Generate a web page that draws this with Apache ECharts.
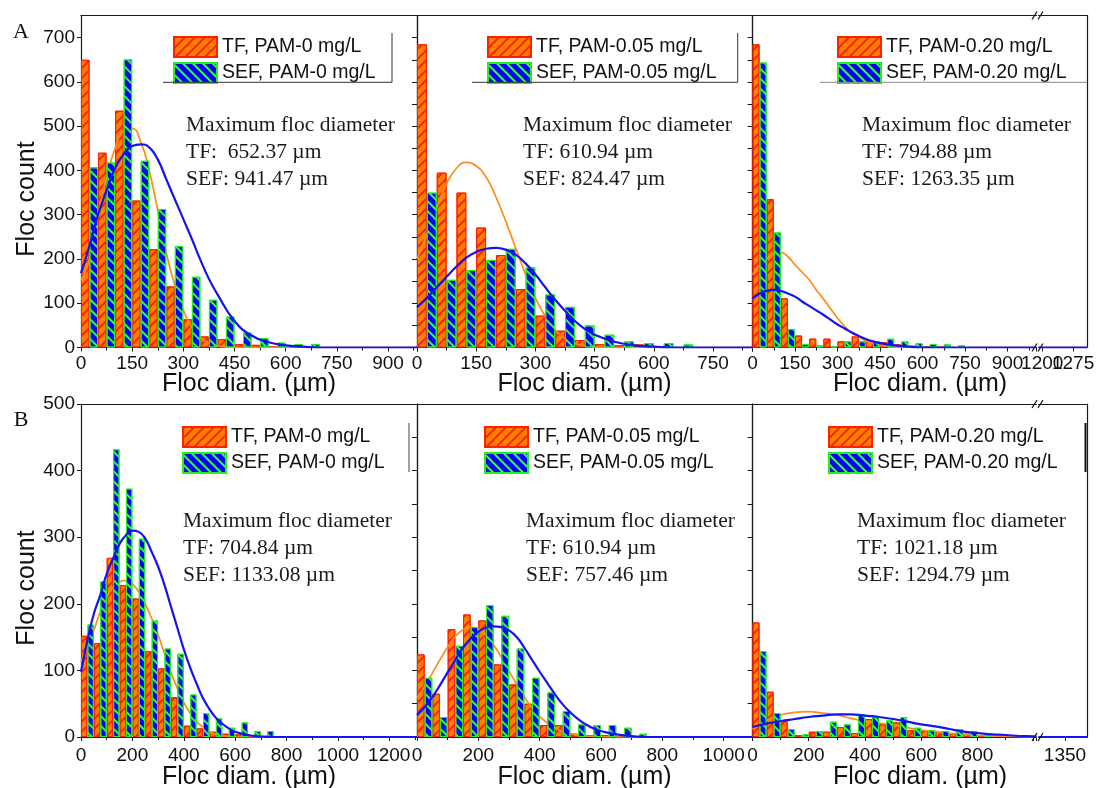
<!DOCTYPE html>
<html>
<head>
<meta charset="utf-8">
<title>Floc diameter distributions</title>
<script src="https://cdn.jsdelivr.net/npm/echarts@6/dist/echarts.min.js"></script>
<style>
  html, body { margin: 0; padding: 0; background: #ffffff; }
  #chart { width: 1098px; height: 788px; }
</style>
</head>
<body>
<div id="chart"></div>
<script>
// 50 um bins, TF sits in the left half of each bin and SEF in the right half
const binCenters = [25, 75, 125, 175, 225, 275, 325, 375, 425, 475, 525, 575, 625, 675, 725, 775, 825];

const namesPam0 = ['TF, PAM-0 mg/L', 'SEF, PAM-0 mg/L'];
const namesPam005 = ['TF, PAM-0.05 mg/L', 'SEF, PAM-0.05 mg/L'];
const namesPam020 = ['TF, PAM-0.20 mg/L', 'SEF, PAM-0.20 mg/L'];

// row A counts
const tfA0 = [650, 440, 535, 332, 222, 138, 64, 25, 19, 8, 6, 2];
const sefA0 = [407, 418, 651, 422, 313, 229, 160, 108, 70, 34, 21, 11, 8, 8];
const tfA005 = [685, 395, 350, 271, 209, 132, 72, 38, 17, 8, 5, 7, 1];
const sefA005 = [350, 153, 175, 198, 223, 181, 120, 92, 50, 29, 14, 10, 10, 7];
const tfA020 = [685, 335, 111, 27, 20, 20, 14, 25, 16, 12, 7, 4, 2, 1];
const sefA020 = [644, 260, 42, 8, 5, 3, 14, 14, 14, 20, 14, 10, 8, 7, 5];

// row B counts
const tfB0 = [152, 141, 269, 228, 208, 129, 103, 60, 17, 13, 8, 5, 4, 2, 1];
const sefB0 = [169, 234, 432, 373, 298, 175, 133, 125, 64, 36, 28, 14, 22, 9, 9];
const tfB005 = [124, 65, 162, 184, 175, 109, 79, 50, 18, 18, 5, 3, 3, 1];
const sefB005 = [89, 30, 137, 165, 198, 182, 133, 89, 67, 39, 19, 18, 18, 14, 5];
const tfB020 = [172, 68, 24, 3, 8, 8, 15, 6, 27, 19, 22, 10, 10, 8, 5, 5, 3];
const sefB020 = [129, 36, 12, 4, 9, 23, 19, 34, 30, 25, 30, 14, 10, 9, 12, 9, 3];

// fitted curves
const fitXA0 = [0, 25, 50, 75, 100, 125, 150, 175, 200, 225, 250, 275, 300, 325, 350, 375, 400, 450, 500, 550, 600, 650, 700, 985];
const tfFitA0 = [150, 200, 300, 385, 450, 490, 495, 465, 400, 310, 215, 140, 85, 45, 22, 10, 4, 0, 0, 0, 0, 0, 0, 0];
const sefFitA0 = [168, 230, 300, 355, 405, 437, 455, 459, 452, 425, 380, 335, 290, 245, 198, 155, 120, 60, 27, 12, 5, 2, 0, 0];

const fitXA005 = [0, 25, 50, 75, 100, 125, 150, 175, 200, 225, 250, 275, 300, 325, 350, 375, 400, 425, 450, 500, 550, 600, 650, 850];
const tfFitA005 = [200, 255, 315, 370, 405, 418, 410, 385, 340, 285, 225, 165, 112, 70, 40, 20, 9, 4, 1, 0, 0, 0, 0, 0];
const sefFitA005 = [91, 112, 136, 160, 183, 203, 216, 223, 225, 221, 210, 190, 165, 136, 108, 83, 60, 42, 29, 13, 5, 2, 0, 0];

const fitXA020 = [0, 25, 50, 75, 100, 125, 150, 175, 200, 225, 250, 275, 300, 325, 350, 375, 400, 425, 450, 500, 550, 600, 1002];
const tfFitA020 = [165, 185, 200, 212, 215, 205, 187, 170, 153, 130, 110, 88, 66, 48, 33, 24, 15, 9, 5, 1, 0, 0, 0];
const sefFitA020 = [110, 122, 128, 130, 128, 122, 115, 104, 94, 84, 74, 63, 52, 43, 34, 26, 19, 14, 10, 5, 2, 0, 0];

const fitXB0 = [0, 25, 50, 75, 100, 125, 150, 175, 200, 225, 250, 275, 300, 325, 350, 375, 400, 425, 450, 475, 500, 525, 550, 575, 600, 650, 700, 750, 1308];
const tfFitB0 = [112, 135, 160, 188, 210, 225, 233, 235, 230, 218, 200, 178, 154, 125, 97, 73, 52, 36, 23, 15, 8, 4, 2, 1, 0, 0, 0, 0, 0];
const sefFitB0 = [98, 145, 185, 213, 245, 268, 290, 303, 310, 308, 298, 278, 256, 228, 196, 164, 132, 104, 80, 58, 42, 29, 20, 13, 8, 3, 1, 0, 0];

const fitXB005 = [0, 25, 50, 75, 100, 125, 150, 175, 200, 225, 250, 275, 300, 325, 350, 375, 400, 425, 450, 475, 500, 525, 550, 575, 600, 650, 700, 750, 1094];
const tfFitB005 = [58, 76, 96, 116, 135, 151, 161, 165, 162, 153, 138, 120, 99, 79, 60, 44, 31, 21, 14, 8, 5, 3, 1.5, 1, 0.5, 0, 0, 0, 0];
const sefFitB005 = [33, 45, 60, 78, 97, 116, 134, 148, 158, 164, 166, 165, 160, 150, 134, 116, 98, 81, 64, 49, 37, 27, 19, 13, 9, 4, 1.5, 0, 0];

const fitXB020 = [0, 50, 100, 150, 200, 250, 300, 350, 400, 450, 500, 550, 600, 650, 700, 750, 800, 850, 900, 950, 1000, 1010];
const tfFitB020 = [12, 25, 33, 37, 38, 36, 33, 28, 24, 21, 18, 14, 10.5, 8, 5.5, 4, 2.5, 1.5, 1, 0.5, 0, 0];
const sefFitB020 = [15, 20, 24, 27, 30, 32, 34, 34, 32, 30, 27, 23, 19, 16, 12, 8, 6, 4, 3, 1.5, 1, 0.5];

// part of the axis after the break
const tailXA = [1191, 1310];
const tailXB = [1256, 1430];
const tailZero = [0, 0];

const tickLabelsTailA = [1200, 1275];
const tickLabelsTailB = [1350];

const rowLayout = [
  { top: 15.5, height: 332, yMax: 750, labelMargin: 7 },
  { top: 404, height: 333, yMax: 500, labelMargin: 9 }
];

const panels = [
  { row: 0, left: 81, width: 336, xMax: 985, interval: 150, yLabels: true, rightTicks: true,
    tf: tfA0, sef: sefA0, fitX: fitXA0, tfFit: tfFitA0, sefFit: sefFitA0, names: namesPam0, legendLeft: 173, legendTop: 36 },
  { row: 0, left: 417, width: 335.5, xMax: 850, interval: 150, rightTicks: true,
    tf: tfA005, sef: sefA005, fitX: fitXA005, tfFit: tfFitA005, sefFit: sefFitA005, names: namesPam005, legendLeft: 487, legendTop: 36 },
  { row: 0, left: 752.5, width: 284, xMax: 1002, interval: 150, noRight: true,
    tf: tfA020, sef: sefA020, fitX: fitXA020, tfFit: tfFitA020, sefFit: sefFitA020, names: namesPam020, legendLeft: 837, legendTop: 36 },
  { row: 0, left: 1038.5, width: 49, xMin: tailXA[0], xMax: tailXA[1], tickValues: tickLabelsTailA, noLeft: true,
    fitX: tailXA, tfFit: tailZero, sefFit: tailZero },
  { row: 1, left: 81, width: 336, xMax: 1308, interval: 200, yLabels: true, rightTicks: true,
    tf: tfB0, sef: sefB0, fitX: fitXB0, tfFit: tfFitB0, sefFit: sefFitB0, names: namesPam0, legendLeft: 182, legendTop: 426 },
  { row: 1, left: 417, width: 335.5, xMax: 1094, interval: 200, rightTicks: true,
    tf: tfB005, sef: sefB005, fitX: fitXB005, tfFit: tfFitB005, sefFit: sefFitB005, names: namesPam005, legendLeft: 484, legendTop: 426 },
  { row: 1, left: 752.5, width: 284, xMax: 1010, interval: 200, noRight: true, labelMax: 800,
    tf: tfB020, sef: sefB020, fitX: fitXB020, tfFit: tfFitB020, sefFit: sefFitB020, names: namesPam020, legendLeft: 828, legendTop: 426 },
  { row: 1, left: 1038.5, width: 49, xMin: tailXB[0], xMax: tailXB[1], tickValues: tickLabelsTailB, noLeft: true,
    fitX: tailXB, tfFit: tailZero, sefFit: tailZero }
];

const axisColor = '#1a1a1a';
const sansFont = 'Liberation Sans, Arial, sans-serif';
const serifFont = '"Liberation Serif", "Times New Roman", serif';
const tickFont = { fontFamily: sansFont, fontSize: 19, color: '#111' };

const tfStyle = {
  color: '#ff8000',
  borderColor: '#ff2000',
  borderWidth: 1,
  decal: { symbol: 'rect', symbolSize: 1, color: '#ff2000', dashArrayX: [1, 0], dashArrayY: [1.3, 5], rotation: -Math.PI / 4 }
};
const sefStyle = {
  color: '#0000ff',
  borderColor: '#22ee22',
  borderWidth: 1,
  decal: { symbol: 'rect', symbolSize: 1, color: '#33ff33', dashArrayX: [1, 0], dashArrayY: [1.3, 5], rotation: Math.PI / 4 }
};

const grids = [];
const xAxes = [];
const yAxes = [];
const series = [];
const legends = [];

panels.forEach((p, i) => {
  const row = rowLayout[p.row];
  const xMin = p.xMin || 0;
  const labelMax = p.labelMax || Infinity;
  grids.push({ left: p.left, top: row.top, width: p.width, height: row.height, outerBoundsMode: 'none' });

  const lineStyle = { color: axisColor, width: 1.2 };
  const bottomX = {
    type: 'value', gridIndex: i, position: 'bottom', min: xMin, max: p.xMax,
    axisLine: { show: true, onZero: false, lineStyle: lineStyle },
    axisTick: { show: true, inside: false, length: 4, lineStyle: { color: axisColor } },
    axisLabel: Object.assign({ margin: row.labelMargin, hideOverlap: false,
      formatter: v => (v <= labelMax ? String(v) : '') }, tickFont),
    splitLine: { show: false }
  };
  if (p.tickValues) {
    // only the first value goes through the axis, the rest are placed after layout
    bottomX.axisLabel.customValues = p.tickValues.slice(0, 1);
    bottomX.axisTick.customValues = p.tickValues;
  } else {
    bottomX.interval = p.interval;
    bottomX.axisLabel.showMaxLabel = false;
    bottomX.minorTick = { show: true, splitNumber: 2, length: 3, lineStyle: { color: axisColor } };
  }
  xAxes.push(bottomX);
  xAxes.push({
    type: 'value', gridIndex: i, position: 'top', min: xMin, max: p.xMax,
    axisLine: { show: true, onZero: false, lineStyle: lineStyle },
    axisTick: { show: false }, axisLabel: { show: false }, splitLine: { show: false }
  });

  yAxes.push({
    type: 'value', gridIndex: i, position: 'left', min: 0, max: row.yMax, interval: 100,
    axisLine: { show: !p.noLeft, onZero: false, lineStyle: lineStyle },
    axisTick: { show: !!p.yLabels, length: 4, lineStyle: { color: axisColor } },
    axisLabel: Object.assign({ show: !!p.yLabels, margin: 6, showMaxLabel: row.yMax % 100 === 0,
      formatter: v => String(v) }, tickFont),
    splitLine: { show: false }
  });
  yAxes.push({
    type: 'value', gridIndex: i, position: 'right', min: 0, max: row.yMax, interval: 50,
    axisLine: { show: !p.noRight, onZero: false, lineStyle: lineStyle },
    axisTick: { show: !!p.rightTicks, inside: true, length: 5, lineStyle: { color: axisColor } },
    axisLabel: { show: false }, splitLine: { show: false }
  });

  const xi = 2 * i;
  const yi = 2 * i;
  // drawing order: TF bars, TF fit, SEF bars, SEF fit
  if (p.tf) {
    series.push({
      type: 'bar', name: p.names[0], xAxisIndex: xi, yAxisIndex: yi, z: 2,
      data: p.tf.map((v, k) => [binCenters[k], v]),
      barGap: '0%', barCategoryGap: '0%', itemStyle: tfStyle
    });
  }
  series.push({
    type: 'line', name: 'TF fit ' + i, xAxisIndex: xi, yAxisIndex: yi, z: 3,
    data: p.fitX.map((x, k) => [x, p.tfFit[k]]),
    smooth: true, showSymbol: false, lineStyle: { color: '#ff8c1a', width: 1.7 }
  });
  if (p.sef) {
    series.push({
      type: 'bar', name: p.names[1], xAxisIndex: xi, yAxisIndex: yi, z: 4,
      data: p.sef.map((v, k) => [binCenters[k], v]),
      barGap: '0%', barCategoryGap: '0%', itemStyle: sefStyle
    });
    legends.push({
      data: p.names, orient: 'vertical', left: p.legendLeft, top: p.legendTop,
      padding: 0, itemGap: 4, itemWidth: 43, itemHeight: 20, icon: 'rect', selectedMode: false,
      textStyle: { fontFamily: sansFont, fontSize: 19.5, color: '#111' }
    });
  }
  series.push({
    type: 'line', name: 'SEF fit ' + i, xAxisIndex: xi, yAxisIndex: yi, z: 5,
    data: p.fitX.map((x, k) => [x, p.sefFit[k]]),
    smooth: true, showSymbol: false, lineStyle: { color: '#1414f0', width: 2.2 }
  });
});

const notes = [
  { x: 186, y: 111.5, text: 'Maximum floc diameter\nTF:  652.37 \u00b5m\nSEF: 941.47 \u00b5m' },
  { x: 523, y: 111.5, text: 'Maximum floc diameter\nTF: 610.94 \u00b5m\nSEF: 824.47 \u00b5m' },
  { x: 862, y: 111.5, text: 'Maximum floc diameter\nTF: 794.88 \u00b5m\nSEF: 1263.35 \u00b5m' },
  { x: 183, y: 507.5, text: 'Maximum floc diameter\nTF: 704.84 \u00b5m\nSEF: 1133.08 \u00b5m' },
  { x: 526, y: 507.5, text: 'Maximum floc diameter\nTF: 610.94 \u00b5m\nSEF: 757.46 \u00b5m' },
  { x: 857, y: 507.5, text: 'Maximum floc diameter\nTF: 1021.18 \u00b5m\nSEF: 1294.79 \u00b5m' }
];

const graphic = [];
notes.forEach(n => {
  graphic.push({
    type: 'text', x: n.x, y: n.y, z: 10,
    style: { text: n.text, font: '21.5px ' + serifFont, lineHeight: 27, fill: '#1a1a1a',
      align: 'left', verticalAlign: 'top', textAlign: 'left', textVerticalAlign: 'top' }
  });
});

function centeredText(text, x, y, font, rotation) {
  return {
    type: 'text', x: x, y: y, rotation: rotation || 0, z: 10,
    style: { text: text, font: font, fill: '#111',
      align: 'center', verticalAlign: 'middle', textAlign: 'center', textVerticalAlign: 'middle' }
  };
}

graphic.push(centeredText('A', 21, 32, '22px ' + serifFont));
graphic.push(centeredText('B', 21, 420, '22px ' + serifFont));
graphic.push(centeredText('Floc count', 27, 199, '25px ' + sansFont, Math.PI / 2));
graphic.push(centeredText('Floc count', 27, 588, '25px ' + sansFont, Math.PI / 2));
[249, 584.5, 920].forEach(cx => {
  graphic.push(centeredText('Floc diam. (\u00b5m)', cx, 384, '25px ' + sansFont));
  graphic.push(centeredText('Floc diam. (\u00b5m)', cx, 777, '25px ' + sansFont));
});

// leftovers of the legend frames
const frames = [
  { points: [[163, 82.3], [392, 82.3], [392, 33]], color: '#333', width: 1 },
  { points: [[472, 82.3], [737.7, 82.3], [737.7, 33]], color: '#333', width: 1 },
  { points: [[820, 82.3], [1087, 82.3]], color: '#888', width: 1 },
  { points: [[409, 423], [409, 472]], color: '#444', width: 1 },
  { points: [[1085.5, 423], [1085.5, 472]], color: '#111', width: 2 }
];
frames.forEach(f => {
  graphic.push({ type: 'polyline', z: 10, shape: { points: f.points },
    style: { stroke: f.color, lineWidth: f.width, fill: null } });
});

// axis break marks
[15.5, 347.5, 404, 737].forEach(y => {
  [1034.5, 1040.5].forEach(x => {
    graphic.push({ type: 'line', z: 100,
      shape: { x1: x - 2.5, y1: y + 4, x2: x + 2.5, y2: y - 4 },
      style: { stroke: '#111', lineWidth: 1.2 } });
  });
});

const chart = echarts.init(document.getElementById('chart'));
chart.setOption({
  backgroundColor: '#ffffff',
  animation: false,
  grid: grids,
  xAxis: xAxes,
  yAxis: yAxes,
  legend: legends,
  series: series,
  graphic: graphic
});

// crowded labels after the break: ECharts drops overlapping ones, so place them from the axis scale
panels.forEach((p, i) => {
  if (!p.tickValues) return;
  const row = rowLayout[p.row];
  p.tickValues.slice(1).forEach(v => {
    const pt = chart.convertToPixel({ gridIndex: i }, [v, 0]);
    graphic.push({
      type: 'text', x: pt[0], y: pt[1] + row.labelMargin, z: 10,
      style: { text: String(v), font: '19px ' + sansFont, fill: '#111',
        align: 'center', verticalAlign: 'top', textAlign: 'center', textVerticalAlign: 'top' }
    });
  });
});
chart.setOption({ graphic: graphic });
</script>
</body>
</html>
